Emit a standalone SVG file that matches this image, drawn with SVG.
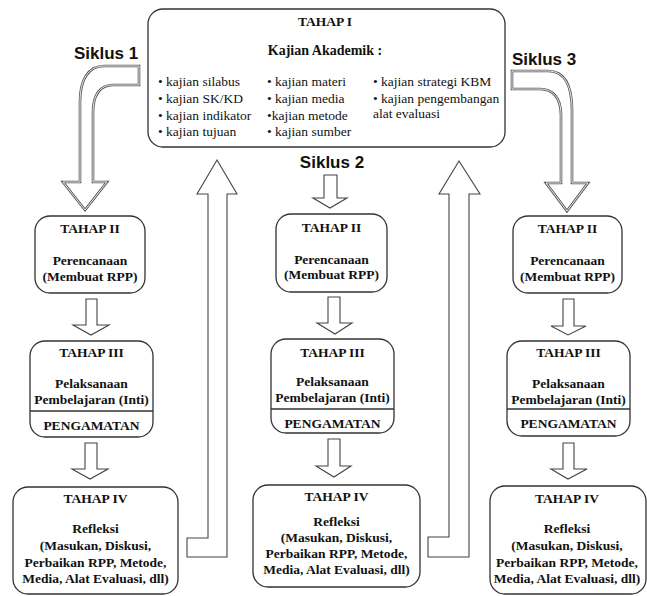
<svg xmlns="http://www.w3.org/2000/svg" width="647" height="596" viewBox="0 0 647 596">
<style>
.box{fill:#fff;stroke:#333;stroke-width:1.3}
.div{stroke:#333;stroke-width:1.3}
.arr{fill:#fff;stroke:#444;stroke-width:1.1;stroke-linejoin:miter}
.carr{fill:#fff;stroke:#555;stroke-width:2.6}
.carr2{fill:none;stroke:#fff;stroke-width:0.9}
.t{font-family:"Liberation Serif","Times New Roman",serif;font-size:13.5px;font-weight:bold;fill:#111;text-anchor:middle}
.b{font-family:"Liberation Serif","Times New Roman",serif;font-size:13.5px;fill:#111}
.s{font-family:"Liberation Sans",Arial,sans-serif;font-size:17px;font-weight:bold;fill:#111}
</style>
<rect width="647" height="596" fill="#fff"/>

<g id="connectors">
  <!-- Siklus 1 curved arrow -->
  <path class="carr" d="M139,66 L104,66 C88,66 80,80 80,102 L80,182 L63,182 L85,210 L107,182 L93,182 L93,112 C93,95 100,85 113,85 L139,85 Z"/>
  <path class="carr2" d="M139,66 L104,66 C88,66 80,80 80,102 L80,182 L63,182 L85,210 L107,182 L93,182 L93,112 C93,95 100,85 113,85 L139,85 Z"/>
  <!-- Siklus 3 curved arrow -->
  <path class="carr" d="M512,71 L548,71 C564,71 572,85 572,110 L572,183 L588,183 L567,211 L546,183 L561,183 L561,115 C561,98 553,89 540,89 L512,89 Z"/>
  <path class="carr2" d="M512,71 L548,71 C564,71 572,85 572,110 L572,183 L588,183 L567,211 L546,183 L561,183 L561,115 C561,98 553,89 540,89 L512,89 Z"/>
  <!-- Siklus 2 down arrow -->
  <polygon class="arr" points="324,175 337,175 337,198 347,198 330,208 313,198 324,198"/>
  <!-- Column 1 arrows -->
  <polygon class="arr" points="86,299 97,299 97,325 109,325 91,335 73,325 86,325"/>
  <polygon class="arr" points="85,443 97,443 97,469 108,469 90,479 72,469 85,469"/>
  <!-- Column 2 arrows -->
  <polygon class="arr" points="328,297 340,297 340,323 352,323 335,334 317,323 328,323"/>
  <polygon class="arr" points="328,439 340,439 340,466 351,466 334,477 316,466 328,466"/>
  <!-- Column 3 arrows -->
  <polygon class="arr" points="563,299 574,299 574,326 586,326 568,335 551,326 563,326"/>
  <polygon class="arr" points="563,443 574,443 574,469 587,469 568,479 551,469 563,469"/>
  <!-- Return arrows -->
  <polygon class="arr" points="217,160 237,194 227,194 227,557 187,557 187,538 208,538 208,194 197,194"/>
  <polygon class="arr" points="459,161 480,194 469,194 469,557 428,557 428,537 449,537 449,194 439,194"/>
</g>

<g id="siklus-labels">
  <text class="s" x="74" y="59">Siklus 1</text>
  <text class="s" x="332" y="168" text-anchor="middle">Siklus 2</text>
  <text class="s" x="512" y="65">Siklus 3</text>
</g>

<g id="tahap1">
  <rect class="box" x="148" y="9" width="357" height="138" rx="15"/>
  <text class="t" x="325" y="26">TAHAP I</text>
  <text class="t" x="325" y="55" style="font-size:14px">Kajian Akademik :</text>
  <text class="b" x="158" y="86">• kajian silabus</text>
  <text class="b" x="158" y="103">• kajian SK/KD</text>
  <text class="b" x="158" y="120">• kajian indikator</text>
  <text class="b" x="158" y="136">• kajian tujuan</text>
  <text class="b" x="267" y="86">• kajian materi</text>
  <text class="b" x="267" y="103">• kajian media</text>
  <text class="b" x="267" y="120">•kajian metode</text>
  <text class="b" x="267" y="136">• kajian sumber</text>
  <text class="b" x="373" y="86">• kajian strategi KBM</text>
  <text class="b" x="373" y="103">• kajian pengembangan</text>
  <text class="b" x="373" y="118">alat evaluasi</text>
</g>

<g id="c1-tahap2">
  <rect class="box" x="35" y="216" width="110" height="77" rx="15"/>
  <text class="t" x="90" y="233">TAHAP II</text>
  <text class="t" x="90" y="265">Perencanaan</text>
  <text class="t" x="90" y="281">(Membuat RPP)</text>
</g>
<g id="c1-tahap3">
  <rect class="box" x="30" y="341" width="123" height="96" rx="15"/>
  <line class="div" x1="30" y1="411" x2="153" y2="411"/>
  <text class="t" x="91.5" y="357">TAHAP III</text>
  <text class="t" x="91.5" y="388">Pelaksanaan</text>
  <text class="t" x="91.5" y="404">Pembelajaran (Inti)</text>
  <text class="t" x="91.5" y="430">PENGAMATAN</text>
</g>
<g id="c1-tahap4">
  <rect class="box" x="13" y="487" width="165" height="107" rx="15"/>
  <text class="t" x="95.5" y="503">TAHAP IV</text>
  <text class="t" x="95.5" y="533">Refleksi</text>
  <text class="t" x="95.5" y="550">(Masukan, Diskusi,</text>
  <text class="t" x="95.5" y="567">Perbaikan RPP, Metode,</text>
  <text class="t" x="95.5" y="583">Media, Alat Evaluasi, dll)</text>
</g>

<g id="c2-tahap2">
  <rect class="box" x="276" y="214" width="111" height="78" rx="15"/>
  <text class="t" x="331.5" y="232">TAHAP II</text>
  <text class="t" x="331.5" y="264">Perencanaan</text>
  <text class="t" x="331.5" y="279">(Membuat RPP)</text>
</g>
<g id="c2-tahap3">
  <rect class="box" x="271" y="339" width="123" height="94" rx="15"/>
  <line class="div" x1="271" y1="409" x2="394" y2="409"/>
  <text class="t" x="332.5" y="357">TAHAP III</text>
  <text class="t" x="332.5" y="386">Pelaksanaan</text>
  <text class="t" x="332.5" y="402">Pembelajaran (Inti)</text>
  <text class="t" x="332.5" y="428">PENGAMATAN</text>
</g>
<g id="c2-tahap4">
  <rect class="box" x="253" y="485" width="167" height="102" rx="15"/>
  <text class="t" x="336.5" y="501">TAHAP IV</text>
  <text class="t" x="336.5" y="526">Refleksi</text>
  <text class="t" x="336.5" y="542">(Masukan, Diskusi,</text>
  <text class="t" x="336.5" y="558">Perbaikan RPP, Metode,</text>
  <text class="t" x="336.5" y="574">Media, Alat Evaluasi, dll)</text>
</g>

<g id="c3-tahap2">
  <rect class="box" x="513" y="216" width="109" height="77" rx="15"/>
  <text class="t" x="567.5" y="233">TAHAP II</text>
  <text class="t" x="567.5" y="265">Perencanaan</text>
  <text class="t" x="567.5" y="281">(Membuat RPP)</text>
</g>
<g id="c3-tahap3">
  <rect class="box" x="507" y="341" width="123" height="95" rx="15"/>
  <line class="div" x1="507" y1="409" x2="630" y2="409"/>
  <text class="t" x="568.5" y="357">TAHAP III</text>
  <text class="t" x="568.5" y="388">Pelaksanaan</text>
  <text class="t" x="568.5" y="404">Pembelajaran (Inti)</text>
  <text class="t" x="568.5" y="428">PENGAMATAN</text>
</g>
<g id="c3-tahap4">
  <rect class="box" x="490" y="486" width="156" height="108" rx="15"/>
  <text class="t" x="567" y="503">TAHAP IV</text>
  <text class="t" x="567" y="533">Refleksi</text>
  <text class="t" x="567" y="550">(Masukan, Diskusi,</text>
  <text class="t" x="567" y="567">Perbaikan RPP, Metode,</text>
  <text class="t" x="567" y="583">Media, Alat Evaluasi, dll)</text>
</g>
</svg>
